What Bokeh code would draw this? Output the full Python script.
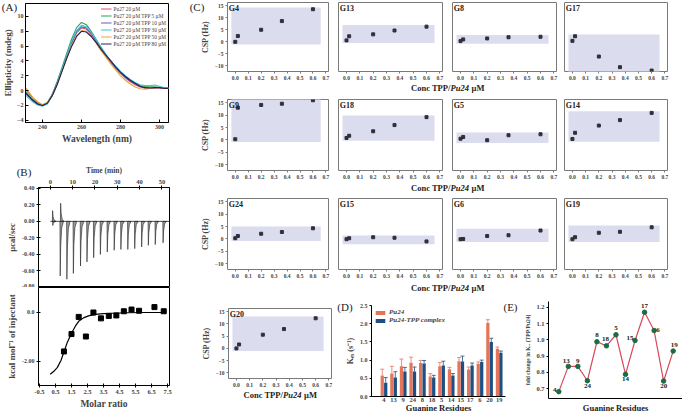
from bokeh.plotting import figure
from bokeh.layouts import row, column
from bokeh.models import (Range1d, FixedTicker, LabelSet, ColumnDataSource, Whisker, TeeHead,
                          GridBox, PrintfTickFormatter)
from bokeh.core.properties import value
from bokeh.embed import file_html
from bokeh.resources import INLINE

SERIF = "Liberation Serif"

# ---------------- (A) CD spectra ----------------
WAVELENGTH = [230.0, 232.5, 235.0, 237.5, 240.0, 242.5, 245.0, 247.5, 250.0, 252.5,
              255.0, 257.5, 260.0, 262.5, 265.0, 267.5, 270.0, 272.5, 275.0, 277.5,
              280.0, 282.5, 285.0, 287.5, 290.0, 292.5, 295.0, 297.5, 300.0, 302.5, 305.0]
CD_PU27 = [0.6, -0.2, -1.0, -1.6, -1.95, -1.7, -0.7, 0.9, 2.7, 4.6, 6.4, 7.8, 8.45, 8.3, 7.5,
           6.5, 5.5, 4.6, 3.8, 3.0, 2.3, 1.7, 1.2, 0.8, 0.5, 0.35, 0.3, 0.35, 0.35, 0.3, 0.3]
CD_TPP5 = [0.2, -0.5, -1.2, -1.7, -1.95, -1.6, -0.5, 1.2, 3.1, 5.1, 7.0, 8.5, 9.2, 8.9, 8.0,
           6.9, 5.8, 4.8, 4.0, 3.2, 2.5, 1.9, 1.4, 1.0, 0.7, 0.55, 0.5, 0.5, 0.45, 0.35, 0.3]
CD_TPP10 = [0.0, -0.7, -1.3, -1.8, -2.0, -1.7, -0.6, 1.0, 2.9, 4.8, 6.6, 7.95, 8.6, 8.45, 7.7,
            6.7, 5.7, 4.8, 3.9, 3.1, 2.4, 1.8, 1.3, 0.9, 0.55, 0.4, 0.35, 0.4, 0.4, 0.3, 0.3]
CD_TPP30 = [-0.2, -0.9, -1.5, -1.95, -2.1, -1.8, -0.7, 0.9, 2.9, 4.8, 6.7, 8.1, 8.8, 8.6, 7.9,
            6.9, 5.9, 4.9, 4.0, 3.3, 2.6, 2.0, 1.5, 1.1, 0.8, 0.7, 0.7, 0.75, 0.6, 0.4, 0.3]
CD_TPP50 = [0.8, 0.0, -0.9, -1.5, -1.9, -1.6, -0.7, 0.8, 2.6, 4.4, 6.1, 7.4, 8.1, 8.0, 7.3,
            6.4, 5.4, 4.5, 3.6, 2.8, 2.0, 1.4, 0.9, 0.5, 0.25, 0.2, 0.3, 0.45, 0.4, 0.3, 0.3]
CD_TPP80 = [0.1, -0.6, -1.3, -1.8, -2.0, -1.7, -0.7, 0.8, 2.6, 4.4, 6.0, 7.3, 8.0, 7.9, 7.3,
            6.5, 5.6, 4.8, 4.0, 3.2, 2.5, 1.9, 1.4, 1.0, 0.6, 0.4, 0.35, 0.4, 0.4, 0.3, 0.3]
CD_LABELS = ["Pu27 20 µM", "Pu27 20 µM TPP 5 µM", "Pu27 20 µM TPP 10 µM",
             "Pu27 20 µM TPP 30 µM", "Pu27 20 µM TPP 50 µM", "Pu27 20 µM TPP 80 µM"]
A_XTICKS = [240, 260, 280, 300]
A_YTICKS = [-4, -2, 0, 2, 4, 6, 8, 10]

# ---------------- (B) ITC ----------------
INJ_TIME = [1.0, 4.3, 7.3, 10.2, 13.4, 16.3, 19.3, 22.3, 25.4, 28.5, 31.5, 34.6, 37.7,
            40.8, 43.8, 46.9, 50.4]
INJ_PEAK = [-0.05, -0.66, -0.70, -0.63, -0.54, -0.49, -0.44, -0.40, -0.37, -0.35, -0.34,
            -0.34, -0.33, -0.31, -0.29, -0.28, -0.26]
POS_TIME = [0.9, 4.5]
POS_PEAK = [0.13, 0.22]
ITC_BASE_T = [0.0, 54.0]
ITC_BASE_Y = [0.0, 0.0]
B_TIME_TICKS = [0, 10, 20, 30, 40, 50]
B_RATE_TICKS = [0.4, 0.2, 0.0, -0.2, -0.4, -0.6, -0.8]
MOLAR_RATIO = [1.03, 1.5, 1.95, 2.4, 2.87, 3.34, 3.83, 4.3, 4.77, 5.25, 5.72, 6.68, 7.26]
HEAT = [-1.59, -0.88, -0.18, -0.98, 0.0, -0.24, -0.14, -0.12, 0.05, 0.12, 0.07, 0.22, 0.05]
FIT_RATIO = [0.17, 0.4, 0.62, 0.85, 1.03, 1.25, 1.5, 1.75, 1.95, 2.25, 2.56, 3.0, 3.5,
             4.0, 5.0, 6.0, 7.26]
FIT_HEAT = [-2.52, -2.4, -2.24, -1.95, -1.6, -1.2, -0.85, -0.55, -0.36, -0.22, -0.14,
            -0.08, -0.05, -0.03, -0.01, 0.0, 0.0]
B_RATIO_TICKS = [-0.5, 0.5, 1.5, 2.5, 3.5, 4.5, 5.5, 6.5, 7.5]
B_HEAT_TICKS = [0, -2]
B_HEAT_LABELS = ["0.0", "-2.00"]

# ---------------- (C) CSP titration ----------------
CONC = [0.0, 0.02, 0.2, 0.36, 0.6]
CSP_G4 = [0.0, 2.4, 5.0, 8.6, 13.5]
CSP_G13 = [0.6, 2.3, 3.1, 4.7, 6.3]
CSP_G8 = [0.3, 1.0, 1.4, 1.9, 2.1]
CSP_G17 = [0.4, 2.3, -6.1, -10.5, -11.9]
CSP_G9 = [0.3, 13.0, 14.1, 14.6, 16.0]
CSP_G18 = [0.8, 1.7, 3.5, 6.0, 9.2]
CSP_G5 = [0.5, 1.2, -0.1, 1.9, 2.3]
CSP_G14 = [0.4, 2.9, 5.8, 8.0, 10.9]
CSP_G24 = [0.3, 1.2, 2.1, 2.8, 4.3]
CSP_G15 = [-0.1, 0.3, 0.7, 0.5, -1.0]
CSP_G6 = [-0.1, 0.0, 1.2, 1.5, 3.4]
CSP_G19 = [-0.1, 0.7, 2.5, 2.9, 4.7]
CSP_G20 = [0.0, 1.6, 5.6, 7.9, 12.3]
C_XTICKS = [0.0, 0.1, 0.2, 0.3, 0.4, 0.5, 0.6, 0.7]
C_YTICKS = [-10, -5, 0, 5, 10, 15]

# ---------------- (D) / (E) exchange rates ----------------
RES = ["4", "13", "9", "24", "8", "18", "5", "14", "15", "17", "6", "20", "19"]
KEX_PU24 = [0.58, 0.63, 0.83, 0.93, 0.92, 0.55, 0.83, 0.75, 0.97, 0.74, 0.90, 2.02, 1.31]
KEX_TPP = [0.38, 0.52, 0.69, 0.69, 0.91, 0.52, 0.85, 0.58, 0.96, 0.85, 0.95, 1.50, 1.20]
ERR_PU24 = [0.17, 0.2, 0.2, 0.15, 0.07, 0.08, 0.1, 0.05, 0.1, 0.07, 0.05, 0.09, 0.05]
ERR_TPP = [0.14, 0.16, 0.11, 0.12, 0.08, 0.06, 0.12, 0.05, 0.15, 0.07, 0.05, 0.1, 0.05]
D_YTICKS = [0.0, 0.5, 1.0, 1.5, 2.0, 2.5]
FOLD = [0.682, 0.837, 0.837, 0.749, 0.988, 0.963, 1.031, 0.788, 0.996, 1.169, 1.057, 0.747, 0.931]
E_YTICKS = [0.7, 0.8, 0.9, 1.0, 1.1, 1.2]

# ---------------- layout (page pixels; Bokeh's page has no body margin) ----------------
PAGE_W = 682
PAGE_H = 412


def base_fig(x0, x1, fx0, fx1, y0, y1, fy0, fy1, xr, yr, **kw):
    p = figure(width=x1 - x0, height=y1 - y0, x_range=xr, y_range=yr,
               min_border_left=fx0 - x0, min_border_right=x1 - fx1,
               min_border_top=fy0 - y0, min_border_bottom=y1 - fy1,
               output_backend="svg", toolbar_location=None, frame_align=False, **kw)
    p.grid.visible = False
    p.outline_line_color = None
    p.background_fill_color = "white"
    p.border_fill_color = "white"
    return p


def style(ax, tick_size, label_size="8px", tick_in=0, tick_out=2, standoff=2, lstand=2):
    ax.major_label_text_font = SERIF
    ax.major_label_text_font_style = "bold"
    ax.major_label_text_font_size = tick_size
    ax.major_label_standoff = standoff
    ax.axis_label_text_font = SERIF
    ax.axis_label_text_font_style = "bold"
    ax.axis_label_text_font_size = label_size
    ax.axis_label_standoff = lstand
    ax.major_tick_in = tick_in
    ax.major_tick_out = tick_out
    ax.minor_tick_line_color = None
    ax.axis_line_color = "black"
    ax.major_tick_line_color = "black"


# ================= (A) =================
pa = base_fig(0, 192, 25, 168, 0, 147, 3, 122, Range1d(231.3, 304.6), Range1d(-4.3, 11.75))
pa.outline_line_color = "black"
A_COLORS = ["#e0506a", "#2aa25a", "#6a58c8", "#3cc4d4", "#f0a23a", "#23234f"]
for ys, c, lab in zip([CD_PU27, CD_TPP5, CD_TPP10, CD_TPP30, CD_TPP50, CD_TPP80], A_COLORS, CD_LABELS):
    pa.line(WAVELENGTH, ys, color=c, line_width=1.1, legend_label=lab)
pa.xaxis.ticker = FixedTicker(ticks=A_XTICKS)
pa.yaxis.ticker = FixedTicker(ticks=A_YTICKS)
style(pa.xaxis[0], "6px", "9.5px", tick_in=3, tick_out=0)
style(pa.yaxis[0], "6px", "9px", tick_in=3, tick_out=0, lstand=1)
pa.xaxis.axis_label = "Wavelength (nm)"
pa.yaxis.axis_label = "Ellipticity (mdeg)"
lg = pa.legend[0]
lg.location = "top_right"
lg.label_text_font = SERIF
lg.label_text_font_size = "5.3px"
lg.glyph_width = 11
lg.glyph_height = 7
lg.label_height = 7
lg.spacing = 0
lg.padding = 0
lg.margin = 2
lg.label_standoff = 2
lg.background_fill_alpha = 0
lg.border_line_color = None

# ================= (B) top: raw ITC =================
pb1 = base_fig(0, 192, 38, 169, 147, 287, 187, 287, Range1d(-5.3, 53.4), Range1d(-0.8, 0.41),
               x_axis_location="above")
pb1.outline_line_color = "black"
SPIKE_DT = [0.0, 0.12, 0.35, 0.8, 1.6]
SPIKE_SHAPE = [0.0, 1.0, 0.45, 0.12, 0.0]
sx_, sy_ = [], []
for t, h in list(zip(INJ_TIME, INJ_PEAK)) + list(zip(POS_TIME, POS_PEAK)):
    sx_.append([t + d for d in SPIKE_DT])
    sy_.append([h * f for f in SPIKE_SHAPE])
pb1.patches(sx_, sy_, fill_color="#9a9a9a", line_color="#222222", line_width=0.6)
pb1.line(ITC_BASE_T, ITC_BASE_Y, color="#222222", line_width=0.8)
pb1.xaxis.ticker = FixedTicker(ticks=B_TIME_TICKS)
pb1.yaxis.ticker = FixedTicker(ticks=B_RATE_TICKS)
pb1.yaxis.formatter = PrintfTickFormatter(format="%.2f")
style(pb1.xaxis[0], "6.5px", "7.5px", tick_in=2, tick_out=2)
style(pb1.yaxis[0], "6px", "8.5px", tick_in=2, tick_out=2)
pb1.xaxis.axis_label = "Time (min)"
pb1.yaxis.axis_label = "µcal/sec"

# ================= (B) bottom: integrated heats =================
pb2 = base_fig(0, 192, 38, 169, 287, 412, 287, 385, Range1d(-0.56, 7.62), Range1d(-2.98, 1.02))
pb2.outline_line_color = "black"
pb2.line(FIT_RATIO, FIT_HEAT, color="black", line_width=1.2)
pb2.scatter(MOLAR_RATIO, HEAT, marker="square", size=5, color="black")
pb2.xaxis.ticker = FixedTicker(ticks=B_RATIO_TICKS)
pb2.xaxis.formatter = PrintfTickFormatter(format="%.1f")
pb2.yaxis.ticker = FixedTicker(ticks=B_HEAT_TICKS)
pb2.yaxis.major_label_overrides = dict(zip(B_HEAT_TICKS, B_HEAT_LABELS))
style(pb2.xaxis[0], "6.5px", "9.5px", tick_in=2, tick_out=2)
style(pb2.yaxis[0], "6px", "9px", tick_in=2, tick_out=2)
pb2.xaxis.axis_label = "Molar ratio"
pb2.yaxis.axis_label = "kcal mol⁻¹ of injectant"

left_col = column(pa, pb1, pb2, spacing=0)

# ================= (C) =================
C_BAND = "#dcdcef"


def make_c(name, vals, cols, rows, show_y):
    x0, x1, fx0, fx1 = cols
    y0, y1, fy0, fy1 = rows
    p = base_fig(x0, x1, fx0, fx1, y0, y1, fy0, fy1, Range1d(-0.06, 0.72), Range1d(-12.3, 16.3))
    p.outline_line_color = "#7a7a7a"
    p.quad(left=[CONC[0] - 0.03], right=[CONC[-1] + 0.06],
           bottom=[min(vals) - 1.1], top=[max(vals) + 0.7],
           fill_color=C_BAND, line_color=None)
    p.scatter(CONC, vals, marker="square", size=3, color="#30303c")
    p.text(x=[-0.05], y=[14.0], text=[name], text_font=value(SERIF), text_font_style="bold",
           text_font_size="8px", text_align="left", text_baseline="middle", text_color="#222222")
    p.xaxis.ticker = FixedTicker(ticks=C_XTICKS)
    p.xaxis.formatter = PrintfTickFormatter(format="%.1f")
    style(p.xaxis[0], "5.5px", tick_out=2)
    p.xaxis.axis_line_color = None
    p.xaxis.major_tick_line_color = "#7a7a7a"
    if show_y:
        p.yaxis.ticker = FixedTicker(ticks=C_YTICKS)
        style(p.yaxis[0], "5.5px", "8px", tick_out=2)
        p.yaxis.axis_line_color = None
        p.yaxis.major_tick_line_color = "#7a7a7a"
        p.yaxis.axis_label = "CSP (Hz)"
    else:
        p.yaxis.visible = False
    return p


COLS = [(192, 333, 227, 328), (333, 447, 338, 442), (447, 560, 452, 556), (560, 682, 564, 667)]
ROWS = [(0, 92, 2, 71), (92, 192, 99, 170), (192, 292, 198, 269)]
GRID = [[("G4", CSP_G4), ("G13", CSP_G13), ("G8", CSP_G8), ("G17", CSP_G17)],
        [("G9", CSP_G9), ("G18", CSP_G18), ("G5", CSP_G5), ("G14", CSP_G14)],
        [("G24", CSP_G24), ("G15", CSP_G15), ("G6", CSP_G6), ("G19", CSP_G19)]]

right_items = []
for rspec, names in zip(ROWS, GRID):
    figs = [make_c(nm, vals, COLS[ci], rspec, ci == 0) for ci, (nm, vals) in enumerate(names)]
    right_items.append(row(*figs, spacing=0))

g20 = make_c("G20", CSP_G20, (192, 335, 228, 331), (292, 412, 308, 378), True)

# ================= (D) =================
IDX = list(range(len(RES)))
pd = base_fig(335, 508, 371, 505, 292, 412, 305, 396, Range1d(-1.3, 12.66), Range1d(0, 2.5))
D_COLORS = ["#e4755a", "#1e4f80"]
for vals, errs, c, lab, off in [(KEX_PU24, ERR_PU24, D_COLORS[0], "Pu24", -0.18),
                                (KEX_TPP, ERR_TPP, D_COLORS[1], "Pu24-TPP complex", 0.18)]:
    src = ColumnDataSource(dict(x=[i + off for i in IDX], top=vals,
                                hi=[v + e for v, e in zip(vals, errs)]))
    pd.vbar(x="x", top="top", width=0.34, source=src, fill_color=c, line_color=None,
            legend_label=lab)
    pd.add_layout(Whisker(source=src, base="x", upper="hi", lower="top", line_color=c,
                          line_width=0.8, upper_head=TeeHead(size=4, line_color=c, line_width=0.8),
                          lower_head=None))
pd.xaxis.ticker = FixedTicker(ticks=IDX)
pd.xaxis.major_label_overrides = dict(zip(IDX, RES))
pd.yaxis.ticker = FixedTicker(ticks=D_YTICKS)
pd.yaxis.formatter = PrintfTickFormatter(format="%.1f")
style(pd.xaxis[0], "6.5px", tick_out=0, standoff=1)
pd.xaxis.major_tick_line_color = None
style(pd.yaxis[0], "6px", "8px", tick_out=2)
pd.yaxis.axis_label = "Kₑₓ (s⁻¹)"
lgd = pd.legend[0]
lgd.location = "top_left"
lgd.label_text_font = SERIF
lgd.label_text_font_style = "bold italic"
lgd.label_text_font_size = "7px"
lgd.glyph_width = 12
lgd.glyph_height = 5
lgd.label_height = 8
lgd.spacing = 0
lgd.padding = 0
lgd.margin = 3
lgd.label_standoff = 3
lgd.background_fill_alpha = 0
lgd.border_line_color = None

# ================= (E) =================
pe = base_fig(508, 682, 548, 682, 292, 412, 301, 398, Range1d(-1.08, 12.98), Range1d(0.64, 1.235))
pe.line(IDX, FOLD, color="#d9485a", line_width=1.2)
pe.scatter(IDX, FOLD, marker="circle", size=4.5, color="#1d6b45")
E_DX = [-4, -2, 0, 0, 0, -1, 0, 0, -5, 0, 4, 0, 1]
E_DY = [2, 5, 5, -5, 7, 7, 7, -5, 2, 6, 1, -5, 6]
esrc = ColumnDataSource(dict(x=IDX, y=FOLD, text=RES, dx=E_DX, dy=E_DY))
pe.add_layout(LabelSet(x="x", y="y", text="text", x_offset="dx", y_offset="dy", source=esrc,
                       text_font=value(SERIF), text_font_style="bold", text_font_size="7px",
                       text_align="center", text_baseline="middle", text_color="#222222"))
pe.xaxis.ticker = FixedTicker(ticks=[])
pe.yaxis.ticker = FixedTicker(ticks=E_YTICKS)
pe.yaxis.formatter = PrintfTickFormatter(format="%.1f")
style(pe.xaxis[0], "6px", "8.5px", tick_out=0)
style(pe.yaxis[0], "6.5px", "5.5px", tick_out=2)
pe.yaxis.axis_label = "fold change in Kₑₓ (TPP/Pu24)"

right_items.append(row(g20, pd, pe, spacing=0))
right_col = column(*right_items, spacing=0)
root = row(left_col, right_col, spacing=0)

# ================= overlay for texts that sit outside plot frames =================
ov = figure(width=PAGE_W, height=PAGE_H, x_range=Range1d(0, PAGE_W), y_range=Range1d(PAGE_H, 0),
            min_border=0, output_backend="svg", toolbar_location=None, frame_align=False)
ov.axis.visible = False
ov.grid.visible = False
ov.outline_line_color = None
ov.background_fill_color = None
ov.border_fill_color = None

PANEL_TAGS = ["(A)", "(B)", "(C)", "(D)", "(E)"]
PANEL_X = [9, 23.5, 196.5, 344.5, 510]
PANEL_Y = [6, 171.5, 6, 306.5, 306.5]
ov.text(x=PANEL_X, y=PANEL_Y, text=PANEL_TAGS,
        text_font=value(SERIF), text_font_size="11px", text_align="center",
        text_baseline="middle", text_color="#222222")

CONC_X = [450, 450, 450, 282.5]
CONC_Y = [87, 187, 287, 394]
common = dict(text_font=value(SERIF), text_font_size="8.5px", text_baseline="middle",
              text_color="#222222")
ov.text(x=CONC_X, y=CONC_Y, text=["Conc TPP/"] * 4, text_align="right", text_font_style="bold", **common)
ov.text(x=CONC_X, y=CONC_Y, text=["Pu24"] * 4, text_align="left", text_font_style="bold italic", **common)
ov.text(x=[c + 21 for c in CONC_X], y=CONC_Y, text=["µM"] * 4, text_align="left",
        text_font_style="bold", **common)

ov.text(x=[438, 615], y=[407.5, 407.5], text=["Guanine Residues"] * 2,
        text_font=value(SERIF), text_font_style="bold", text_font_size="8.5px",
        text_align="center", text_baseline="middle", text_color="#222222")

page = GridBox(children=[(root, 0, 0), (ov, 0, 0)])

open("out.html", "w").write(file_html(page, INLINE, title="Pu24 TPP figure"))
